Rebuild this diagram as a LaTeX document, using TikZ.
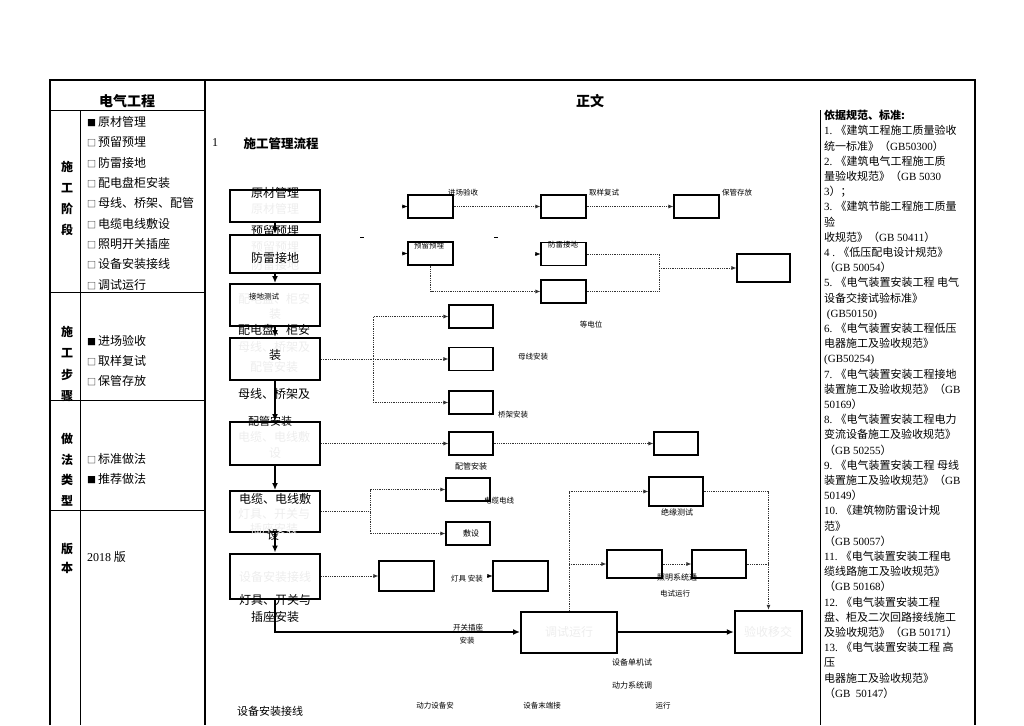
\documentclass[tikz,border=0pt]{standalone}
\usepackage{fontspec}
\setmainfont{Noto Sans CJK SC}
\newfontfamily\latf{Liberation Serif}
\usetikzlibrary{arrows.meta}
\newcommand\boxon{{\fontsize{9}{9}\selectfont ■}\,}
\newcommand\boxoff{{\fontsize{9}{9}\selectfont □}\,}

\begin{document}
\begin{tikzpicture}[x=1pt,y=-1pt,
  thinrule/.style={line width=0.8pt},
  thickrule/.style={line width=1.5pt},
  stagebox/.style={draw,line width=2pt,minimum width=90pt,inner sep=0pt},
  smallbox/.style={draw,line width=1.1pt,minimum width=45pt,minimum height=23pt,inner sep=0pt},
  ghost/.style={text=black!7,inner sep=0pt,font=\fontsize{12}{14}\selectfont},
  big/.style={inner sep=0pt,font=\fontsize{12}{14}\selectfont},
  bigbold/.style={inner sep=0pt,font=\fontsize{12}{14}\selectfont\bfseries},
  small/.style={inner sep=0pt,font=\fontsize{8}{9}\selectfont},
  smaller/.style={inner sep=0pt,font=\fontsize{7.5}{8}\selectfont},
  dotlink/.style={densely dotted,line width=0.8pt,black!80},
  tip/.style={-{Latex[length=5pt,width=4pt]}},
  heavy/.style={line width=1.5pt,-{Latex[length=7pt,width=6pt]}}]
\useasboundingbox (0,0) rectangle (1024,725);

% table frame
\draw[thickrule] (50,725) -- (50,80) -- (975,80) -- (975,725);
\draw[thickrule] (205,80) -- (205,725);
\draw[thinrule] (80,110) -- (80,725);
\draw[thinrule] (820,110) -- (820,725);
\draw[thinrule] (50,110) -- (205,110);
\foreach \yy in {292,400,510} \draw[thinrule] (50,\yy) -- (205,\yy);

\node[inner sep=0pt,font=\fontsize{14}{16}\selectfont\bfseries] (hleft) at (127,101) {电气工程};
\node[inner sep=0pt,font=\fontsize{14}{16}\selectfont\bfseries] (hmain) at (590,101) {正文};

% left column
\foreach \ch/\yy [count=\i] in {施/167,工/188,阶/209,段/230,施/332,工/353,步/375,骤/396,做/439,法/460,类/480,型/501,版/549,本/568}
  \node[bigbold] (v\i) at (67,\yy) {\ch};
\foreach \mk/\t/\yy [count=\i] in {\boxon/原材管理/122,\boxoff/预留预埋/142,\boxoff/防雷接地/163,\boxoff/配电盘柜安装/183,\boxoff/母线、桥架、配管/203,\boxoff/电缆电线敷设/224,\boxoff/照明开关插座/244,\boxoff/设备安装接线/264,\boxoff/调试运行/285,\boxon/进场验收/341,\boxoff/取样复试/361,\boxoff/保管存放/381,\boxoff/标准做法/459,\boxon/推荐做法/479}
  \node[big,anchor=west] (s\i) at (87,\yy) {\mk\t};
\node[big,anchor=west] (ver) at (87,557) {{\latf 2018} 版};

% right column
\node[anchor=north west,align=left,inner sep=0pt,font=\fontsize{11}{15.2}\selectfont] (refs) at (824,110) {%
\textbf{依据规范、标准:}\\
{\latf 1.} 《建筑工程施工质量验收\\
统一标准》（{\latf GB50300}）\\
{\latf 2.} 《建筑电气工程施工质\\
量验收规范》（{\latf GB 5030}\\
{\latf 3}）；\\
{\latf 3.} 《建筑节能工程施工质量\\
验\\
收规范》（{\latf GB 50411}）\\
{\latf 4 .} 《低压配电设计规范》\\
（{\latf GB 50054}）\\
{\latf 5.} 《电气装置安装工程 电气\\
设备交接试验标准》\\
{\latf \ (GB50150)}\\
{\latf 6.} 《电气装置安装工程低压\\
电器施工及验收规范》\\
{\latf (GB50254)}\\
{\latf 7.} 《电气装置安装工程接地\\
装置施工及验收规范》（{\latf GB}\\
{\latf 50169}）\\
{\latf 8.} 《电气装置安装工程电力\\
变流设备施工及验收规范》\\
（{\latf GB 50255}）\\
{\latf 9.} 《电气装置安装工程 母线\\
装置施工及验收规范》（{\latf GB}\\
{\latf 50149}）\\
{\latf 10.} 《建筑物防雷设计规\\
范》\\
（{\latf GB 50057}）\\
{\latf 11.} 《电气装置安装工程电\\
缆线路施工及验收规范》\\
（{\latf GB 50168}）\\
{\latf 12.} 《电气装置安装工程\\
盘、柜及二次回路接线施工\\
及验收规范》（{\latf GB 50171}）\\
{\latf 13.} 《电气装置安装工程 高\\
压\\
电器施工及验收规范》\\
（{\latf GB \ 50147}）};

% main flow
\node[inner sep=0pt,font=\fontsize{12}{14}\selectfont\latf] (num) at (215,143) {1};
\node[inner sep=0pt,font=\fontsize{12.5}{14}\selectfont\bfseries] (title) at (281,144) {施工管理流程};

\node[stagebox,minimum height=32] (pa) at (275,206) {};
\node[stagebox,minimum height=38] (pb) at (275,254) {};
\node[stagebox,minimum height=42] (pc) at (275,305) {};
\node[stagebox,minimum height=42] (pd) at (275,359) {};
\node[stagebox,minimum height=43] (pe) at (275,443.5) {};
\node[stagebox,minimum height=41] (pf) at (275,511.5) {};
\node[stagebox,minimum height=45] (pg) at (275,576) {};
\node[stagebox,minimum width=96,minimum height=41] (ts) at (569,632) {};
\node[stagebox,line width=2.4pt,minimum width=67,minimum height=42] (ys) at (768.5,632) {};

\node[ghost] (ga) at (275,209) {原材管理};
\node[ghost] (gb1) at (275,247) {预留预埋};
\node[ghost] (gb2) at (275,265) {防雷接地};
\node[ghost] (gc1) at (274,299) {配电盘、柜安};
\node[ghost] (gc2) at (275,314) {装};
\node[ghost] (gd1) at (274,347) {母线、桥架及};
\node[ghost] (gd2) at (274,367) {配管安装};
\node[ghost] (ge1) at (274,437) {电缆、电线敷};
\node[ghost] (ge2) at (275,453) {设};
\node[ghost] (gf1) at (274,514) {灯具、开关与};
\node[ghost] (gf2) at (274,529) {插座安装};
\node[ghost] (gg) at (275,577) {设备安装接线};
\node[ghost] (gt) at (569,632) {调试运行};
\node[ghost] (gy) at (768,632) {验收移交};

\draw[heavy] (pa) -- (pb);
\draw[heavy] (pb) -- (pc);
\draw[heavy] (pc) -- (pd);
\draw[heavy] (pd) -- (pe);
\draw[heavy] (pe) -- (pf);
\draw[heavy] (pf) -- (pg);
\draw[heavy] (pg.south) |- (ts.west);
\draw[heavy] (ts) -- (ys);

\node[big] (la) at (275,193) {原材管理};
\node[big] (lb1) at (275,231) {预留预埋};
\node[big] (lb2) at (275,258) {防雷接地};
\node[smaller] (lc) at (264,297) {接地测试};
\node[big] (lc2) at (274,330) {配电盘、柜安};
\node[big] (ld1) at (275,355) {装};
\node[big] (ld2) at (274,394) {母线、桥架及};
\node[inner sep=0pt,font=\fontsize{11}{13}\selectfont] (le) at (270,421) {配管安装};
\node[big] (lf1) at (275,499) {电缆、电线敷};
\node[big] (lf2) at (273,535) {设};
\node[big] (lg1) at (275,600) {灯具、开关与};
\node[big] (lg2) at (275,617) {插座安装};
\node[inner sep=0pt,font=\fontsize{11}{13}\selectfont] (lh) at (270,711) {设备安装接线};

% branch boxes
\node[smallbox] (b1) at (430.5,206.5) {};
\node[smallbox] (b2) at (563.5,206.5) {};
\node[smallbox] (b3) at (696.5,206.5) {};
\node[smallbox] (b4) at (430.5,253.5) {};
\node[smallbox] (b5) at (563.5,254) {};
\node[smallbox] (b6) at (563.5,291.5) {};
\node[smallbox,minimum width=53,minimum height=28] (b7) at (763.5,268) {};
\node[smallbox,minimum width=44] (b8) at (471,316.5) {};
\node[smallbox,minimum width=44] (b9) at (471,359) {};
\node[smallbox,minimum width=44] (b10) at (471,402.5) {};
\node[smallbox,minimum width=44] (b11) at (471,443.5) {};
\node[smallbox,minimum width=44] (b12) at (676,443.5) {};
\node[smallbox,minimum width=44] (b13) at (468,489.5) {};
\node[smallbox,minimum width=44] (b14) at (468,533.5) {};
\node[smallbox,minimum width=55,minimum height=30] (b15) at (406.5,576) {};
\node[smallbox,minimum width=55,minimum height=30] (b16) at (520.5,576) {};
\node[smallbox,minimum width=54,minimum height=29] (bt) at (676,491.5) {};
\node[smallbox,minimum width=55,minimum height=28] (bl1) at (634.5,564) {};
\node[smallbox,minimum width=54,minimum height=28] (bl2) at (719,564) {};

\draw[tip] ([xshift=-5pt]b1.west) -- (b1.west);
\draw[tip] ([xshift=-5pt]b4.west) -- (b4.west);
\draw[tip] ([xshift=-5pt]b5.west) -- (b5.west);
\draw[tip] ([xshift=-5pt]b16.west) -- (b16.west);
\draw[dotlink,tip] (b1) -- (b2);
\draw[dotlink,tip] (b2) -- (b3);
\draw[dotlink,tip] (b4.south) |- (b6.west);
\coordinate (j1) at (659,268);
\draw[dotlink] (b5.east) -| (j1);
\draw[dotlink] (b6.east) -| (j1);
\draw[dotlink,tip] (j1) -- (b7.west);
\draw (360,237) -- (364,237);
\draw (494,237) -- (498,237);

\coordinate (jd) at (373,359);
\draw[dotlink] (pd.east) -- (jd);
\draw[dotlink,tip] (jd) |- (b8.west);
\draw[dotlink,tip] (jd) -- (b9.west);
\draw[dotlink,tip] (jd) |- (b10.west);
\draw[dotlink,tip] (pe.east) -- (b11.west);
\draw[dotlink,tip] (b11) -- (b12);
\coordinate (jf) at (370,511.5);
\draw[dotlink] (pf.east) -- (jf);
\draw[dotlink,tip] (jf) |- (b13.west);
\draw[dotlink,tip] (jf) |- (b14.west);
\draw[dotlink,tip] (pg.east) -- (b15.west);

\draw[dotlink,tip] (ts.north) |- (bt.west);
\draw[dotlink,tip] (ts.north |- bl1.west) -- (bl1.west);
\draw[dotlink,tip] (bl1) -- (bl2);
\draw[dotlink,tip] (bt.east) -| (ys.north);
\draw[dotlink] (bl2.east) -- (bl2.east -| ys.north);

% small labels
\node[smaller] (t1) at (463,193) {进场验收};
\node[smaller] (t2) at (604,193) {取样复试};
\node[smaller] (t3) at (737,193) {保管存放};
\node[smaller] (t4) at (429,246) {预留预埋};
\node[smaller] (t5) at (563,245) {防雷接地};
\node[smaller] (t6) at (591,325) {等电位};
\node[smaller] (t7) at (533,357) {母线安装};
\node[smaller] (t8) at (513,415) {桥架安装};
\node[small] (t9) at (471,466) {配管安装};
\node[smaller] (t10) at (499,501) {电缆电线};
\node[small] (t11) at (471,533) {敷设};
\node[small] (t12) at (677,512) {绝缘测试};
\node[small] (t13) at (677,577) {照明系统通};
\node[smaller] (t14) at (675,594) {电试运行};
\node[smaller] (t15) at (467,579) {灯具 安装};
\node[smaller] (t16) at (468,628) {开关插座};
\node[smaller] (t17) at (467,641) {安装};
\node[small] (t18) at (632,662) {设备单机试};
\node[small] (t19) at (632,685) {动力系统调};
\node[smaller] (t20) at (435,706) {动力设备安};
\node[smaller] (t21) at (542,706) {设备末端接};
\node[smaller] (t22) at (663,706) {运行};
\end{tikzpicture}
\end{document}
